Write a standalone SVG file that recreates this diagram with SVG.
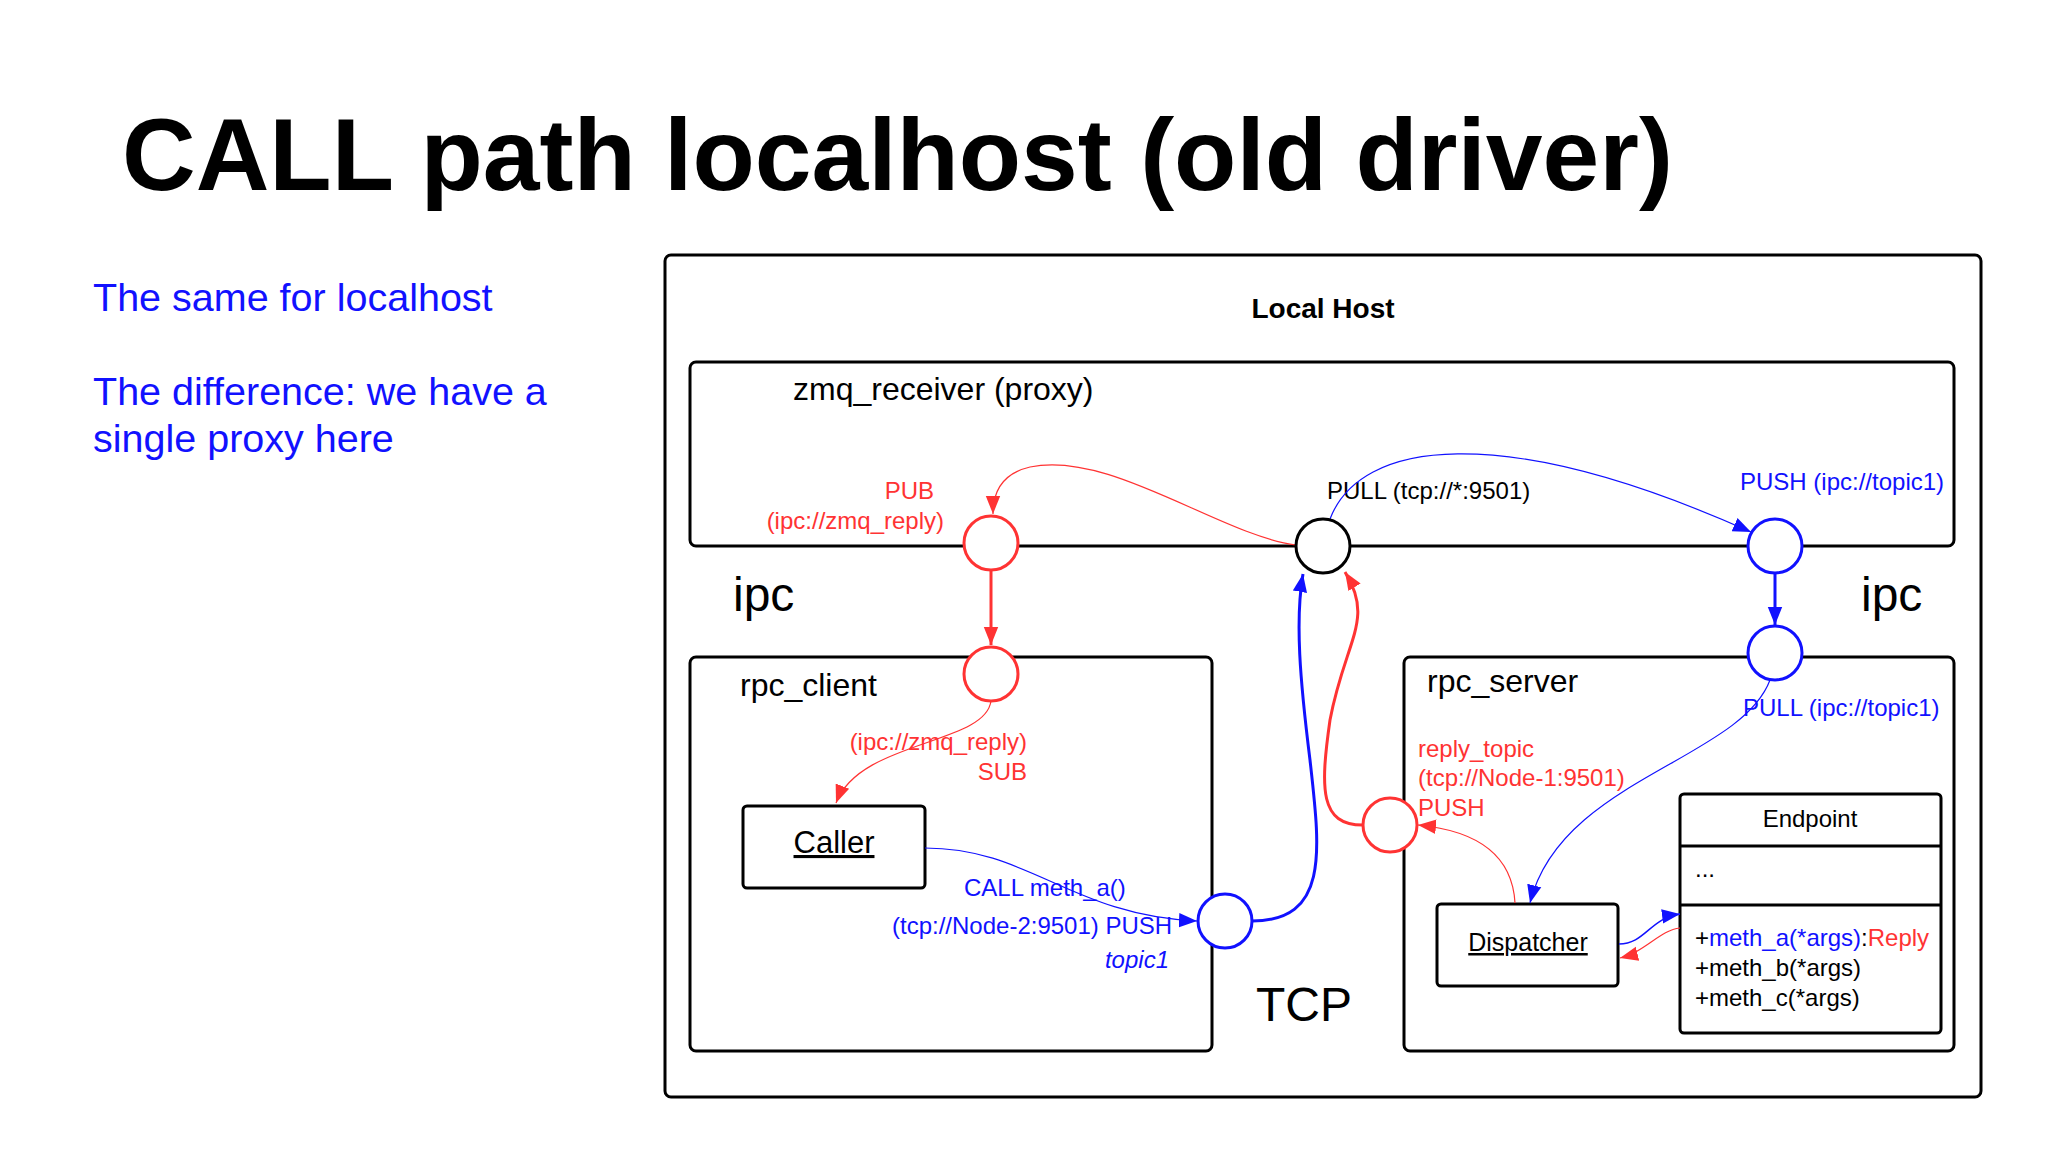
<svg xmlns="http://www.w3.org/2000/svg" width="2048" height="1152" viewBox="0 0 2048 1152">
<style>
text{font-family:"Liberation Sans",Arial,sans-serif}
.box{fill:none;stroke:#000;stroke-width:3}
.cr{fill:#fff;stroke:#f33;stroke-width:3}
.cb{fill:#fff;stroke:#11f;stroke-width:3}
.ck{fill:#fff;stroke:#000;stroke-width:3}
.lr{fill:none;stroke:#f33}
.lb{fill:none;stroke:#11f}
</style>
<defs>
<marker id="ar" markerUnits="userSpaceOnUse" markerWidth="18" markerHeight="18" viewBox="0 0 10 10" refX="10" refY="5" orient="auto"><path d="M0,1 L10,5 L0,9 Z" fill="#f33"/></marker>
<marker id="ab" markerUnits="userSpaceOnUse" markerWidth="18" markerHeight="18" viewBox="0 0 10 10" refX="10" refY="5" orient="auto"><path d="M0,1 L10,5 L0,9 Z" fill="#11f"/></marker>
</defs>
<rect width="2048" height="1152" fill="#fff"/>
<text x="122" y="190" font-size="102" font-weight="bold">CALL path localhost (old driver)</text>
<g font-size="39.5" fill="#11f">
<text x="93" y="311">The same for localhost</text>
<text x="93" y="405">The difference: we have a</text>
<text x="93" y="452">single proxy here</text>
</g>
<g id="localhost"><rect class="box" x="665" y="255" width="1316" height="842" rx="6"/>
<text x="1323" y="318" font-size="28" font-weight="bold" text-anchor="middle">Local Host</text></g>
<g id="proxy"><rect class="box" x="690" y="362" width="1264" height="184" rx="6"/>
<text x="793" y="400" font-size="32">zmq_receiver (proxy)</text></g>
<g id="rpc_client"><rect class="box" x="690" y="657" width="522" height="394" rx="6"/>
<text x="740" y="696" font-size="32">rpc_client</text></g>
<g id="rpc_server"><rect class="box" x="1404" y="657" width="550" height="394" rx="6"/>
<text x="1427" y="692" font-size="32">rpc_server</text></g>
<g id="caller"><rect class="box" x="743" y="806" width="182" height="82" rx="4"/>
<text x="834" y="853" font-size="31" text-anchor="middle" text-decoration="underline">Caller</text></g>
<g id="dispatcher"><rect class="box" x="1437" y="904" width="181" height="82" rx="4"/>
<text x="1528" y="951" font-size="25" text-anchor="middle" text-decoration="underline">Dispatcher</text></g>
<g id="endpoint"><rect class="box" x="1680" y="794" width="261" height="239" rx="4"/>
<line x1="1680" y1="846" x2="1941" y2="846" stroke="#000" stroke-width="3"/>
<line x1="1680" y1="905" x2="1941" y2="905" stroke="#000" stroke-width="3"/>
<text x="1810" y="827" font-size="24" text-anchor="middle">Endpoint</text>
<text x="1695" y="877" font-size="24">...</text>
<text x="1695" y="946" font-size="24">+<tspan fill="#11f">meth_a(*args)</tspan>:<tspan fill="#f33">Reply</tspan></text>
<text x="1695" y="976" font-size="24">+meth_b(*args)</text>
<text x="1695" y="1006" font-size="24">+meth_c(*args)</text></g>
<g id="labels" font-size="24">
<text x="733" y="611" font-size="48">ipc</text>
<text x="1861" y="611" font-size="48">ipc</text>
<text x="1256" y="1021" font-size="48">TCP</text>
<text x="934" y="499" fill="#f33" text-anchor="end">PUB</text>
<text x="944" y="529" fill="#f33" text-anchor="end">(ipc://zmq_reply)</text>
<text x="1327" y="499">PULL (tcp://*:9501)</text>
<text x="1740" y="490" fill="#11f">PUSH (ipc://topic1)</text>
<text x="1743" y="716" fill="#11f">PULL (ipc://topic1)</text>
<text x="1027" y="750" fill="#f33" text-anchor="end">(ipc://zmq_reply)</text>
<text x="1027" y="780" fill="#f33" text-anchor="end">SUB</text>
<text x="1418" y="757" fill="#f33">reply_topic</text>
<text x="1418" y="786" fill="#f33">(tcp://Node-1:9501)</text>
<text x="1418" y="816" fill="#f33">PUSH</text>
<text x="964" y="896" fill="#11f">CALL meth_a()</text>
<text x="892" y="934" fill="#11f">(tcp://Node-2:9501) PUSH</text>
<text x="1169" y="968" fill="#11f" text-anchor="end" font-style="italic">topic1</text>
</g>
<g id="connectors">
<path class="lr" stroke-width="1.2" d="M1296,545 C1220,535 1110,450 1030,467 C1000,474 993,495 993,514" marker-end="url(#ar)"/>
<path class="lr" stroke-width="3" d="M991,570 L991,645" marker-end="url(#ar)"/>
<path class="lr" stroke-width="1.2" d="M991,701 C985,745 860,740 836,803" marker-end="url(#ar)"/>
<path class="lb" stroke-width="1.2" d="M925,848 C1030,848 1070,915 1197,921" marker-end="url(#ab)"/>
<path class="lb" stroke-width="3" d="M1252,921 C1330,921 1320,850 1310,760 C1300,680 1295,620 1303,574" marker-end="url(#ab)"/>
<path class="lr" stroke-width="3" d="M1363,825 C1320,825 1320,790 1330,720 C1345,640 1375,620 1345,572" marker-end="url(#ar)"/>
<path class="lb" stroke-width="1.2" d="M1330,519 C1360,440 1500,420 1751,532" marker-end="url(#ab)"/>
<path class="lb" stroke-width="3" d="M1775,573 L1775,625" marker-end="url(#ab)"/>
<path class="lb" stroke-width="1.2" d="M1770,680 C1740,760 1560,780 1530,903" marker-end="url(#ab)"/>
<path class="lr" stroke-width="1.2" d="M1515,903 C1512,850 1470,830 1418,825" marker-end="url(#ar)"/>
<path class="lb" stroke-width="1.5" d="M1619,944 C1645,944 1650,918 1680,914" marker-end="url(#ab)"/>
<path class="lr" stroke-width="1.2" d="M1680,928 C1660,930 1645,952 1620,958" marker-end="url(#ar)"/>
</g>
<g id="sockets">
<circle class="cr" cx="991" cy="543" r="27"/>
<circle class="ck" cx="1323" cy="546" r="27"/>
<circle class="cb" cx="1775" cy="546" r="27"/>
<circle class="cb" cx="1775" cy="653" r="27"/>
<circle class="cr" cx="991" cy="674" r="27"/>
<circle class="cr" cx="1390" cy="825" r="27"/>
<circle class="cb" cx="1225" cy="921" r="27"/>
</g>
</svg>
